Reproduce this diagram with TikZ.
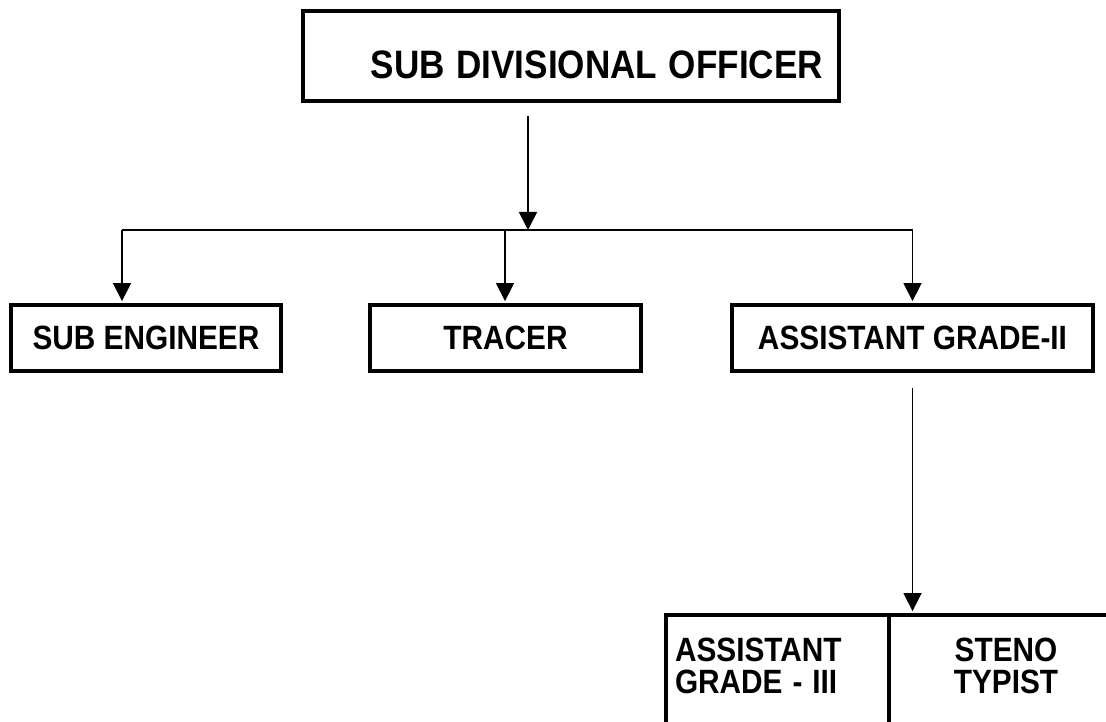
\documentclass[tikz,border=0pt]{standalone}
\usepackage{fontspec}
\setmainfont{Liberation Sans}
\usepackage{graphicx}
\usetikzlibrary{arrows.meta}
\newcommand{\vst}[1]{\scalebox{1}[1.13]{#1}}
\tikzset{
  box/.style={draw, line width=3.8pt, inner sep=0pt, minimum height=66pt,
    font=\bfseries\fontsize{29.8}{24.8}\selectfont},
  conn/.style={line width=1.5pt},
  arr/.style={conn, -{Triangle[length=18pt,width=18pt]}},
}
\begin{document}
\begin{tikzpicture}[x=1pt,y=1pt]
\useasboundingbox (0,0) rectangle (1106,-722);
\clip (0,0) rectangle (1106,-722);
% boxes
\node[box, minimum width=536pt, minimum height=90pt, text width=504pt, align=right,
      text height=46pt, text depth=0pt,
      font=\bfseries\fontsize{35.1}{30}\selectfont] (sdo) at (571,-56) {\vst{SUB DIVISIONAL OFFICER}};
\node[box, minimum width=270pt] (se) at (146,-338) {\vst{SUB ENGINEER}};
\node[box, minimum width=271pt] (tr) at (505.5,-338) {\vst{TRACER}};
\node[box, minimum width=361pt] (ag) at (912.5,-338) {\vst{ASSISTANT GRADE-II}};
\node[box, minimum width=223pt, minimum height=110pt, text width=205pt, align=left] (a3) at (777.5,-670)
  {\vst{\begin{tabular}{@{}l@{}}ASSISTANT\\GRADE - III\end{tabular}}};
\node[box, minimum width=234pt, minimum height=110pt, align=center] (st) at (1006,-670)
  {\vst{\begin{tabular}{@{}c@{}}STENO\\TYPIST\end{tabular}}};
% connectors
\coordinate (bus) at (528,-230);
\coordinate (bl) at (122,-230);
\coordinate (bm) at (505,-230);
\coordinate (br) at (912.5,-230);
\draw[arr, shorten <=13pt] (sdo.south -| bus) -- (bus);
\draw[conn] (bl) -- (br);
\draw[arr, shorten >=2pt] (bl) -- (bl |- se.north);
\draw[arr, shorten >=2pt] (bm) -- (bm |- tr.north);
\draw[arr, shorten >=2pt] (br) -- (br |- ag.north);
\draw[arr, shorten <=15pt, shorten >=2pt] (ag.south) -- (ag.south |- a3.north);
\end{tikzpicture}
\end{document}
